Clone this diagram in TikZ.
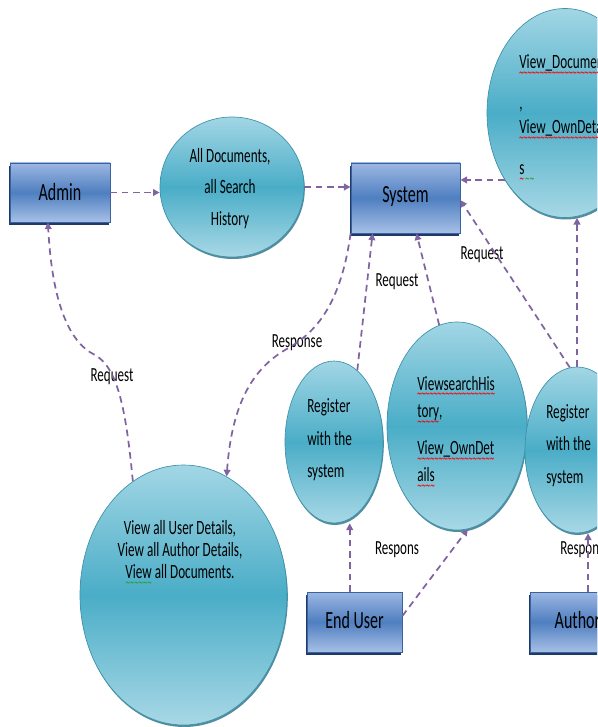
\documentclass[tikz,border=0pt]{standalone}
\usepackage{graphicx}
\usepackage{fontspec}
\setmainfont{Carlito}[FakeStretch=0.65]
\newfontfamily\wavefont{DejaVu Sans}[Scale=0.7]
\usetikzlibrary{shapes.geometric,arrows.meta,shadows,calc}
\definecolor{flowc}{HTML}{8064A2}
\definecolor{boxtop}{HTML}{9CB7E2}
\definecolor{boxmid}{HTML}{4F7FC0}
\definecolor{boxbot}{HTML}{A7C0E6}
\definecolor{boxline}{HTML}{3A62A0}
\definecolor{boxshadow}{HTML}{1F3A66}
\definecolor{circtop}{HTML}{A2D6E5}
\definecolor{circmid}{HTML}{4AADC7}
\definecolor{circbot}{HTML}{A8D8E6}
\definecolor{circline}{HTML}{3C92AA}
\definecolor{circshadow}{HTML}{2A6F84}
\definecolor{wavegreen}{HTML}{2E9E2E}
\newcommand\wavy[2]{\setbox0\hbox{#2}\rlap{\smash{\raisebox{-6.5pt}{\color{#1}\wavefont\hbox to \wd0{\xleaders\hbox{\kern-0.35pt\scalebox{0.42}[1]{∼}\kern-0.35pt}\hfil}}}}\box0\relax}
\newcommand\rwave[1]{\wavy{red}{#1}}
\newcommand\gwave[1]{\wavy{wavegreen}{#1}}
\begin{document}
\begin{tikzpicture}[x=0.75pt,y=-0.75pt,
  boxnode/.style={rectangle, draw=boxline, line width=0.6pt,
    top color=boxtop, bottom color=boxbot, middle color=boxmid,
    font=\fontsize{18.5}{22}\selectfont, inner sep=0pt,
    drop shadow={shadow xshift=-0.6pt, shadow yshift=-2.6pt, fill=boxshadow, opacity=1}},
  procnode/.style={ellipse, draw=circline, line width=0.5pt,
    top color=circtop, bottom color=circbot, middle color=circmid, inner sep=0pt,
    drop shadow={shadow xshift=0.6pt, shadow yshift=-1.5pt, fill=circshadow, opacity=0.8}},
  ctext/.style={inner sep=0pt, text=black},
  lab/.style={inner sep=0pt, font=\fontsize{15}{18}\selectfont, text=black},
  flow/.style={draw=flowc, line width=1.3pt, dash pattern=on 5pt off 3.5pt,
    -{Triangle[length=5pt,width=5pt]}}
]
\path[use as bounding box] (0,0) rectangle (597,727);
\clip (0,0) rectangle (597,727);

% boxes
\node[boxnode, minimum width=75pt, minimum height=44.25pt] (admin) at (60,192.5) {\raisebox{1.5pt}{Admin}};
\node[boxnode, minimum width=81.75pt, minimum height=52.5pt] (sys) at (405.5,198) {\raisebox{5pt}{System}};
\node[boxnode, minimum width=71.25pt, minimum height=45pt] (eu) at (354.5,622) {\raisebox{3.5pt}{End User}};
\node[boxnode, minimum width=71.25pt, minimum height=45pt] (author) at (577.5,622) {\raisebox{3.5pt}{Author}};

% processes
\node[procnode, minimum width=108pt, minimum height=105pt] (C1) at (232,187) {};
\node[procnode, minimum width=117pt, minimum height=156.75pt] (C2) at (565,113) {};
\node[procnode, minimum width=73.5pt, minimum height=121.5pt] (C3) at (334,442) {};
\node[procnode, minimum width=105pt, minimum height=156pt] (C4) at (457,426) {};
\node[procnode, minimum width=78pt, minimum height=124.5pt] (C5) at (577,450) {};
\node[procnode, minimum width=155.25pt, minimum height=195pt] (C6) at (183.5,595) {};

% process texts
\node[ctext, align=center, font=\fontsize{15.2}{23.6}\selectfont] (t1) at (230,188.5)
  {All Documents,\\ all Search\\ History};
\node[ctext, anchor=west, align=left, font=\fontsize{15.2}{18}\selectfont] (t2) at (519,115)
  {\rwave{View\_Documents}\\[12.75pt] ,\\ \rwave{View\_OwnDetail}\\[12.75pt] \rwave{s}\gwave{\hbox to 8pt{\hfil}}};
\node[ctext, anchor=west, align=left, font=\fontsize{15.2}{24.4}\selectfont] (t3) at (307,440)
  {Register\\ with the\\ system};
\node[ctext, anchor=west, align=left, font=\fontsize{15.2}{20.6}\selectfont] (t4) at (417,429)
  {\rwave{ViewsearchHis}\\ \rwave{tory}\gwave{,}\\[7pt] \rwave{View\_OwnDet}\\ \rwave{ails}};
\node[ctext, anchor=west, align=left, font=\fontsize{15.2}{24.4}\selectfont] (t5) at (546,445.5)
  {Register\\ with the\\ system};
\node[ctext, align=center, font=\fontsize{15.2}{16.5}\selectfont] (t6) at (180,550)
  {View all User Details,\\ View all Author Details,\\ \gwave{View} all Documents.};

% labels
\node[lab] (l1) at (112,377) {Request};
\node[lab] (l2) at (297,343) {Response};
\node[lab] (l3) at (397,282) {Request};
\node[lab] (l4) at (482,255) {Request};
\node[lab] (l5) at (397,550) {Respons};
\node[lab, anchor=west] (l6) at (560,550) {Respons};

% helper coordinates on box borders
\coordinate (sysR1) at ($(sys.north east)!0.24!(sys.south east)$);
\coordinate (sysR2) at ($(sys.north east)!0.53!(sys.south east)$);
\coordinate (sysB1) at ($(sys.south west)!0.2!(sys.south east)$);
\coordinate (sysB2) at ($(sys.south west)!0.6!(sys.south east)$);
\coordinate (admB) at ($(admin.south west)!0.38!(admin.south east)$);
\coordinate (euA) at ($(eu.north west)!0.45!(eu.north east)$);
\coordinate (euB) at ($(eu.north east)!0.4!(eu.south east)$);
\coordinate (auA) at ($(author.north west)!0.61!(author.north east)$);

% connectors
\draw[flow] (admin.east) -- (admin.east -| C1.west);
\draw[flow] (C1.east) -- (C1.east -| sys.west);
\draw[flow] (C2.228) -- (C2.228 -| sysR1);
\draw[flow] (C5.north) -- (C5.north |- C2.south);
\draw[flow] (C5.95) -- (sysR2);
\draw[flow] (C4.100) -- (sysB2);
\draw[flow] (C3.72) -- (sysB1);
\draw[flow] (sys.south west) .. controls (340,310) and (312,335) .. (285,350)
  .. controls (255,368) and (232,400) .. (C6.70);
\draw[flow] (C6.114) .. controls (126,410) and (118,368) .. (95,355)
  .. controls (68,342) and (52,300) .. (admB);
\draw[flow] (euA) -- (euA |- C3.south);
\draw[flow] (euB) -- (C4.-84);
\draw[flow] (auA) -- (auA |- C5.south);
\end{tikzpicture}
\end{document}
